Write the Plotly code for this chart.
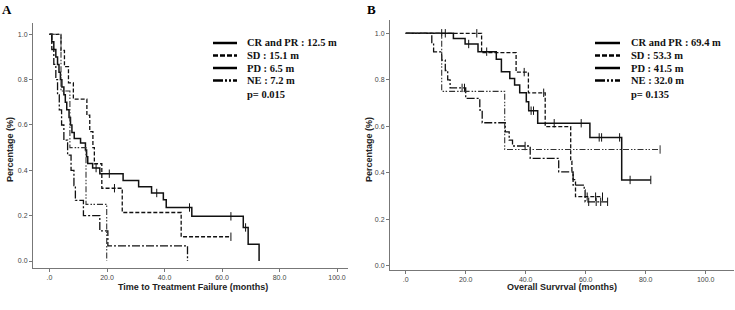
import bisect
import plotly.graph_objects as go

# ---------------- data ----------------
groups = ["CR and PR", "SD", "PD", "NE"]

# Panel A : time to treatment failure
A_CR_t = [0, 0.8, 1.5, 2.2, 2.8, 3.3, 3.8, 4.3, 5.0, 5.5, 6.0, 6.8, 7.3, 7.8, 8.6, 10.8, 12.5, 12.9, 13.3, 15.0, 17.5, 25.6, 31.0, 35.5, 39.6, 40.6, 49.5, 67.4, 69.1, 72.9]
A_CR_s = [1.0, 0.967, 0.933, 0.90, 0.867, 0.833, 0.80, 0.767, 0.733, 0.70, 0.667, 0.633, 0.60, 0.567, 0.54, 0.52, 0.49, 0.46, 0.43, 0.41, 0.385, 0.355, 0.328, 0.30, 0.27, 0.236, 0.197, 0.148, 0.074, 0.0]
A_CR_c = [16.2, 20.8, 37.3, 48.7, 63.1, 68.2]

A_SD_t = [0, 4.0, 5.2, 6.6, 8.3, 13.0, 14.0, 15.1, 15.6, 18.2, 25.3, 45.8]
A_SD_s = [1.0, 0.929, 0.857, 0.786, 0.714, 0.643, 0.571, 0.5, 0.429, 0.321, 0.214, 0.107]
A_SD_c = [22.6, 63.1]

A_PD_t = [0, 0.8, 1.5, 2.2, 2.8, 3.4, 4.2, 5.0, 6.3, 7.5, 8.5, 9.0, 11.8, 17.5, 20.3, 48.0]
A_PD_s = [1.0, 0.933, 0.867, 0.8, 0.733, 0.667, 0.6, 0.533, 0.467, 0.4, 0.333, 0.267, 0.2, 0.133, 0.067, 0.0]
A_PD_c = []

A_NE_t = [0, 4.0, 7.1, 12.7, 19.9]
A_NE_s = [1.0, 0.75, 0.5, 0.25, 0.0]
A_NE_c = []

A_legend = ["CR and PR : 12.5 m", "SD : 15.1 m", "PD : 6.5 m", "NE : 7.2 m"]
A_p = "p= 0.015"

# Panel B : overall survival
B_CR_t = [0, 15.9, 19.8, 24.1, 30.2, 31.9, 34.7, 36.3, 38.0, 40.2, 41.0, 44.0, 61.4, 72.0]
B_CR_s = [1.0, 0.978, 0.954, 0.921, 0.888, 0.835, 0.806, 0.778, 0.744, 0.706, 0.667, 0.613, 0.552, 0.369]
B_CR_c = [12.0, 13.2, 21.0, 27.0, 41.8, 42.6, 49.5, 58.5, 64.5, 65.3, 71.3, 74.8, 81.7]

B_SD_t = [0, 25.3, 36.8, 40.9, 46.5, 55.0, 55.4, 55.8, 56.6]
B_SD_s = [1.0, 0.917, 0.833, 0.744, 0.598, 0.45, 0.40, 0.37, 0.297]
B_SD_c = [23.7, 39.5, 46.0, 60.5, 63.3, 65.6]

B_PD_t = [0, 8.7, 9.3, 12.0, 13.2, 14.0, 14.8, 20.0, 24.7, 25.5, 33.2, 34.5, 35.6, 41.5, 51.0, 55.8, 59.5, 59.8]
B_PD_s = [1.0, 0.96, 0.92, 0.885, 0.84, 0.80, 0.765, 0.72, 0.67, 0.615, 0.576, 0.54, 0.515, 0.462, 0.404, 0.347, 0.326, 0.275]
B_PD_c = [18.8, 19.6, 39.8, 61.0, 63.5, 65.0, 67.3]

B_NE_t = [0, 12.0, 33.0]
B_NE_s = [1.0, 0.75, 0.5]
B_NE_c = [84.8]

B_legend = ["CR and PR : 69.4 m", "SD : 53.3 m", "PD : 41.5 m", "NE : 32.0 m"]
B_p = "p= 0.135"

x_ticks = [0, 20, 40, 60, 80, 100]
x_ticktext = [".0", "20.0", "40.0", "60.0", "80.0", "100.0"]
y_ticks = [0, 0.2, 0.4, 0.6, 0.8, 1.0]
y_ticktext = ["0.0", "0.2", "0.4", "0.6", "0.8", "1.0"]

x_title_A = "Time to Treatment Failure (months)"
x_title_B = "Overall Survrval (months)"
y_title = "Percentage (%)"

# ---------------- styling ----------------
W, H = 735, 310
dashes = ["solid", "4px,2px", "8px,2px,2px,2px", "6px,2px,1.5px,1.5px,1.5px,2px"]
widths = [1.5, 1.3, 1.3, 1.1]
colors = ["#111111", "#111111", "#111111", "#333333"]
SANS = "Liberation Sans, Arial, sans-serif"
SERIF = "Liberation Serif, Times New Roman, serif"


def px_x(p):
    return p / W


def px_y(p):
    return 1 - p / H


fig = go.Figure()

panels = [
    ("x", "y", [(A_CR_t, A_CR_s, A_CR_c), (A_SD_t, A_SD_s, A_SD_c), (A_PD_t, A_PD_s, A_PD_c), (A_NE_t, A_NE_s, A_NE_c)]),
    ("x2", "y2", [(B_CR_t, B_CR_s, B_CR_c), (B_SD_t, B_SD_s, B_SD_c), (B_PD_t, B_PD_s, B_PD_c), (B_NE_t, B_NE_s, B_NE_c)]),
]

for xa, ya, curves in panels:
    for i, (t, s, c) in enumerate(curves):
        xs = list(t)
        ys = list(s)
        if c and max(c) > xs[-1]:
            xs.append(max(c))
            ys.append(ys[-1])
        fig.add_trace(go.Scatter(
            x=xs, y=ys, xaxis=xa, yaxis=ya, mode="lines",
            line=dict(shape="hv", color=colors[i], width=widths[i], dash=dashes[i]),
            name=groups[i], showlegend=False, hoverinfo="skip"))
        if c:
            cy = [s[bisect.bisect_right(t, ct) - 1] for ct in c]
            fig.add_trace(go.Scatter(
                x=c, y=cy, xaxis=xa, yaxis=ya, mode="markers",
                marker=dict(symbol="line-ns", size=6, color=colors[i],
                            line=dict(width=1, color=colors[i])),
                showlegend=False, hoverinfo="skip"))

axis_common = dict(showline=True, linecolor="#777777", linewidth=1, ticks="outside",
                   ticklen=3, tickcolor="#777777", showgrid=False, zeroline=False,
                   tickfont=dict(family=SANS, size=7, color="#444444"), fixedrange=True)

# pixel geometry of the two plot areas
A_left, A_right, A_top, A_bot = 33, 348, 23, 268
B_left, B_right, B_top, B_bot = 390, 734, 20, 270
# data->pixel anchors (value 0 / 1 for y, 0 / per-unit for x)
A_y1, A_y0 = 34.3, 261.0
A_x0, A_xs = 49.5, 2.875
B_y1, B_y0 = 33.3, 265.7
B_x0, B_xs = 405.7, 3.0

A_yr = [-(A_bot - A_y0) / (A_y0 - A_y1), 1 + (A_y1 - A_top) / (A_y0 - A_y1)]
B_yr = [-(B_bot - B_y0) / (B_y0 - B_y1), 1 + (B_y1 - B_top) / (B_y0 - B_y1)]
A_xr = [(A_left - A_x0) / A_xs, (A_right - A_x0) / A_xs]
B_xr = [(B_left - B_x0) / B_xs, (B_right - B_x0) / B_xs]

fig.update_layout(
    width=W, height=H, margin=dict(l=0, r=0, t=0, b=0),
    paper_bgcolor="white", plot_bgcolor="white", showlegend=False,
    xaxis=dict(domain=[px_x(A_left), px_x(A_right)], range=A_xr, anchor="y",
               tickvals=x_ticks, ticktext=x_ticktext, **axis_common),
    yaxis=dict(domain=[px_y(A_bot), px_y(A_top)], range=A_yr, anchor="x",
               tickvals=y_ticks, ticktext=y_ticktext, **axis_common),
    xaxis2=dict(domain=[px_x(B_left), px_x(B_right)], range=B_xr, anchor="y2",
                tickvals=x_ticks, ticktext=x_ticktext, **axis_common),
    yaxis2=dict(domain=[px_y(B_bot), px_y(B_top)], range=B_yr, anchor="x2",
                tickvals=y_ticks, ticktext=y_ticktext, **axis_common),
)

ann = []
shapes = []


def centered(x, y, text, font, angle=0):
    return dict(x=px_x(x), y=px_y(y), text=text, showarrow=False, textangle=angle,
                xanchor="center", yanchor="middle", xref="paper", yref="paper", font=font)


title_font = dict(family=SANS, size=9, color="#222222")
letter_font = dict(family=SERIF, size=13, color="black")
# panel letters
ann.append(centered(7, 10, "<b>A</b>", letter_font))
ann.append(centered(371, 10, "<b>B</b>", letter_font))
# axis titles
ann.append(centered(193, 287, "<b>" + x_title_A + "</b>", title_font))
ann.append(centered(562, 287, "<b>" + x_title_B + "</b>", title_font))
ann.append(centered(10, 150, "<b>" + y_title + "</b>", title_font, -90))
ann.append(centered(369, 150, "<b>" + y_title + "</b>", title_font, -90))

leg_dashes = ["solid", "5px,2px", "solid", "10px,2px,2px,2px,2px,2px"]
rows = [43, 55.5, 68, 80.5]
leg_font = dict(family=SERIF, size=10.5, color="#111111")
for (x0, x1, xt, labels, ptxt) in [(213, 237, 245, A_legend, A_p), (595, 620, 629, B_legend, B_p)]:
    for i, lab in enumerate(labels):
        shapes.append(dict(type="line", xref="paper", yref="paper",
                           x0=px_x(x0), x1=px_x(x1), y0=px_y(rows[i]), y1=px_y(rows[i]),
                           line=dict(color="black", width=2.5, dash=leg_dashes[i])))
        ann.append(dict(x=px_x(xt), y=px_y(rows[i]), text="<b>" + lab + "</b>", showarrow=False,
                        xanchor="left", yanchor="middle", xref="paper", yref="paper", font=leg_font))
    ann.append(dict(x=px_x(xt), y=px_y(94), text="<b>" + ptxt + "</b>", showarrow=False,
                    xanchor="left", yanchor="middle", xref="paper", yref="paper", font=leg_font))

fig.update_layout(annotations=ann, shapes=shapes)
fig.write_html("out.html", config={"displayModeBar": False},
               post_script="document.body.style.margin='0';document.body.style.overflow='hidden';")
